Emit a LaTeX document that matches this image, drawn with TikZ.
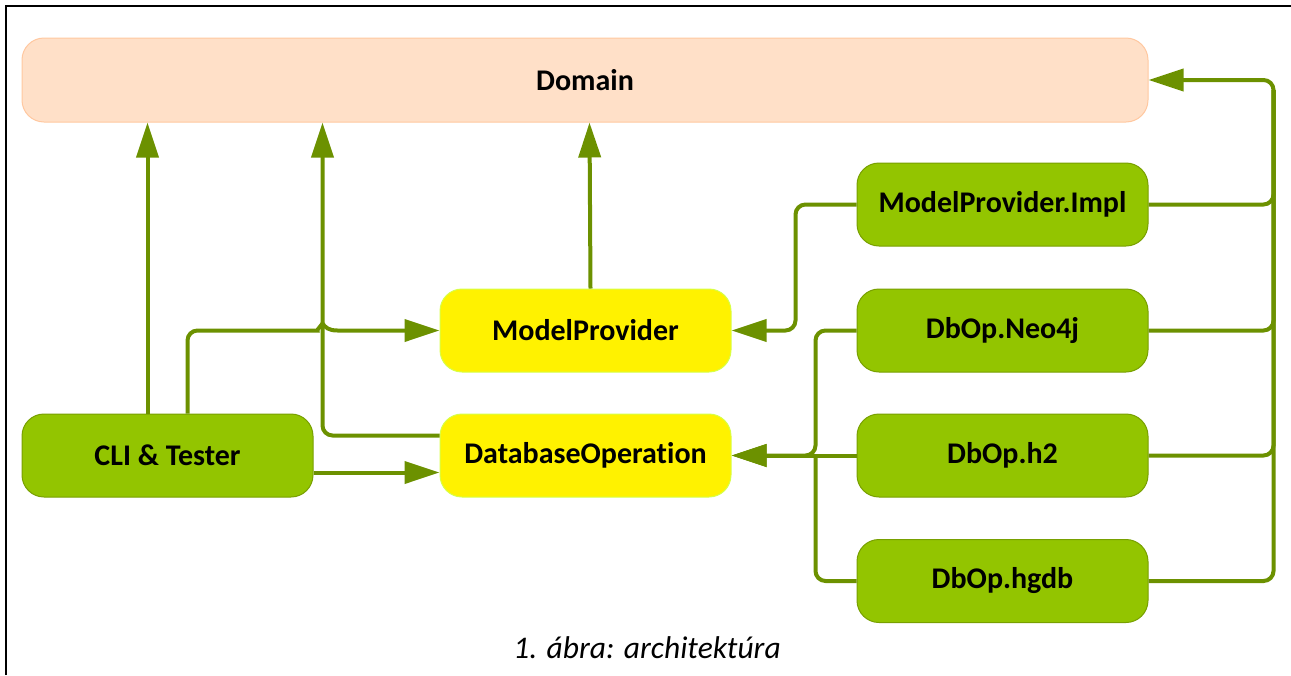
\documentclass[tikz,border=0pt]{standalone}
\usepackage{fontspec}
\setmainfont{Carlito}[Ligatures={NoCommon}]
\usetikzlibrary{arrows.meta,calc}

\definecolor{boxgreen}{RGB}{147,197,0}
\definecolor{boxgreenline}{RGB}{120,160,0}
\definecolor{linkgreen}{RGB}{108,145,0}
\definecolor{domfill}{RGB}{255,224,200}
\definecolor{domline}{RGB}{255,200,160}
\definecolor{ylwline}{RGB}{215,255,70}

\begin{document}
\begin{tikzpicture}[x=1pt,y=-1pt]
              \tikzstyle{every node}+=[inner sep=0pt,font=\fontsize{30}{34}\selectfont\bfseries]
              \tikzstyle{box}=[draw,line width=1pt,rounded corners=22pt,minimum width=291pt,minimum height=83pt]
              \tikzstyle{grn}=[box,fill=boxgreen,draw=boxgreenline]
              \tikzstyle{ylw}=[box,fill=yellow,draw=ylwline]
              \tikzstyle{lnk}=[draw=linkgreen,line width=4pt,rounded corners=10pt]
              \tikzstyle{arr}=[lnk,-{Triangle[length=35pt,width=22pt]}]
              \useasboundingbox (0,0) rectangle (1291,675);
              \draw [black,line width=1.5pt] (6,675) -- (6,6) -- (1291,6);
              \node [box,fill=domfill,draw=domline,minimum width=1126pt,minimum height=84pt] (dom) at (585,80) {Domain};
              \node [grn] (impl) at (1002.5,204.5) {ModelProvider.Impl};
              \node [grn] (neo) at (1002.5,330.5) {DbOp.Neo4j};
              \node [grn] (h2) at (1002.5,455.5) {DbOp.h2};
              \node [grn] (hgdb) at (1002.5,581) {DbOp.hgdb};
              \node [ylw] (mp) at (585.5,330.5) {ModelProvider};
              \node [ylw] (dbop) at (585.5,455.5) {DatabaseOperation};
              \node [grn] (cli) at (167.5,455.5) {CLI \& Tester};
              \node [font=\fontsize{31.5}{36}\selectfont\itshape] (cap) at (647,648) {1. ábra: architektúra};
              \coordinate (hop) at ($(mp.west)+(-117,0)$);
              \draw [arr] ($(cli.north)+(-20,0)$) -- ($(dom.south west)+(126,0)$);
              \draw [arr] ($(cli.north)+(20,0)$) |- ($(hop)+(-15,0)$) [sharp corners]
                .. controls ($(hop)+(-6,0)$) and ($(hop)+(-3,-3)$) .. ($(hop)+(0,-7)$)
                .. controls ($(hop)+(3,-3)$) and ($(hop)+(6,0)$) .. ($(hop)+(15,0)$) -- (mp.west);
              \draw [arr] ($(cli.east)+(0,17)$) -- ($(dbop.west)+(0,17)$);
              \draw [arr] ($(dbop.west)+(0,-20)$) -| ($(dom.south west)+(301,0)$);
              \draw [arr] ($(mp.north)+(5,0)$) -- ($(dom.south west)+(568,0)$);
              \draw [arr] (impl.west) -| ($(mp.east)+(64,0)$) -- (mp.east);
              \draw [arr] (neo.west) -| ($(dbop.east)+(84,0)$) -- (dbop.east);
              \draw [arr] (h2.west) -- (dbop.east);
              \draw [lnk] (hgdb.west) -| ($(dbop.east)+(84,0)$);
              \draw [lnk] (impl.east) -| ($(dom.east)+(125,10)$);
              \draw [lnk] (neo.east) -| ($(dom.east)+(125,10)$);
              \draw [lnk] (h2.east) -| ($(dom.east)+(125,10)$);
              \draw [arr] (hgdb.east) -| ($(dom.east)+(125,0)$) -- (dom.east);
            \end{tikzpicture}
\end{document}
